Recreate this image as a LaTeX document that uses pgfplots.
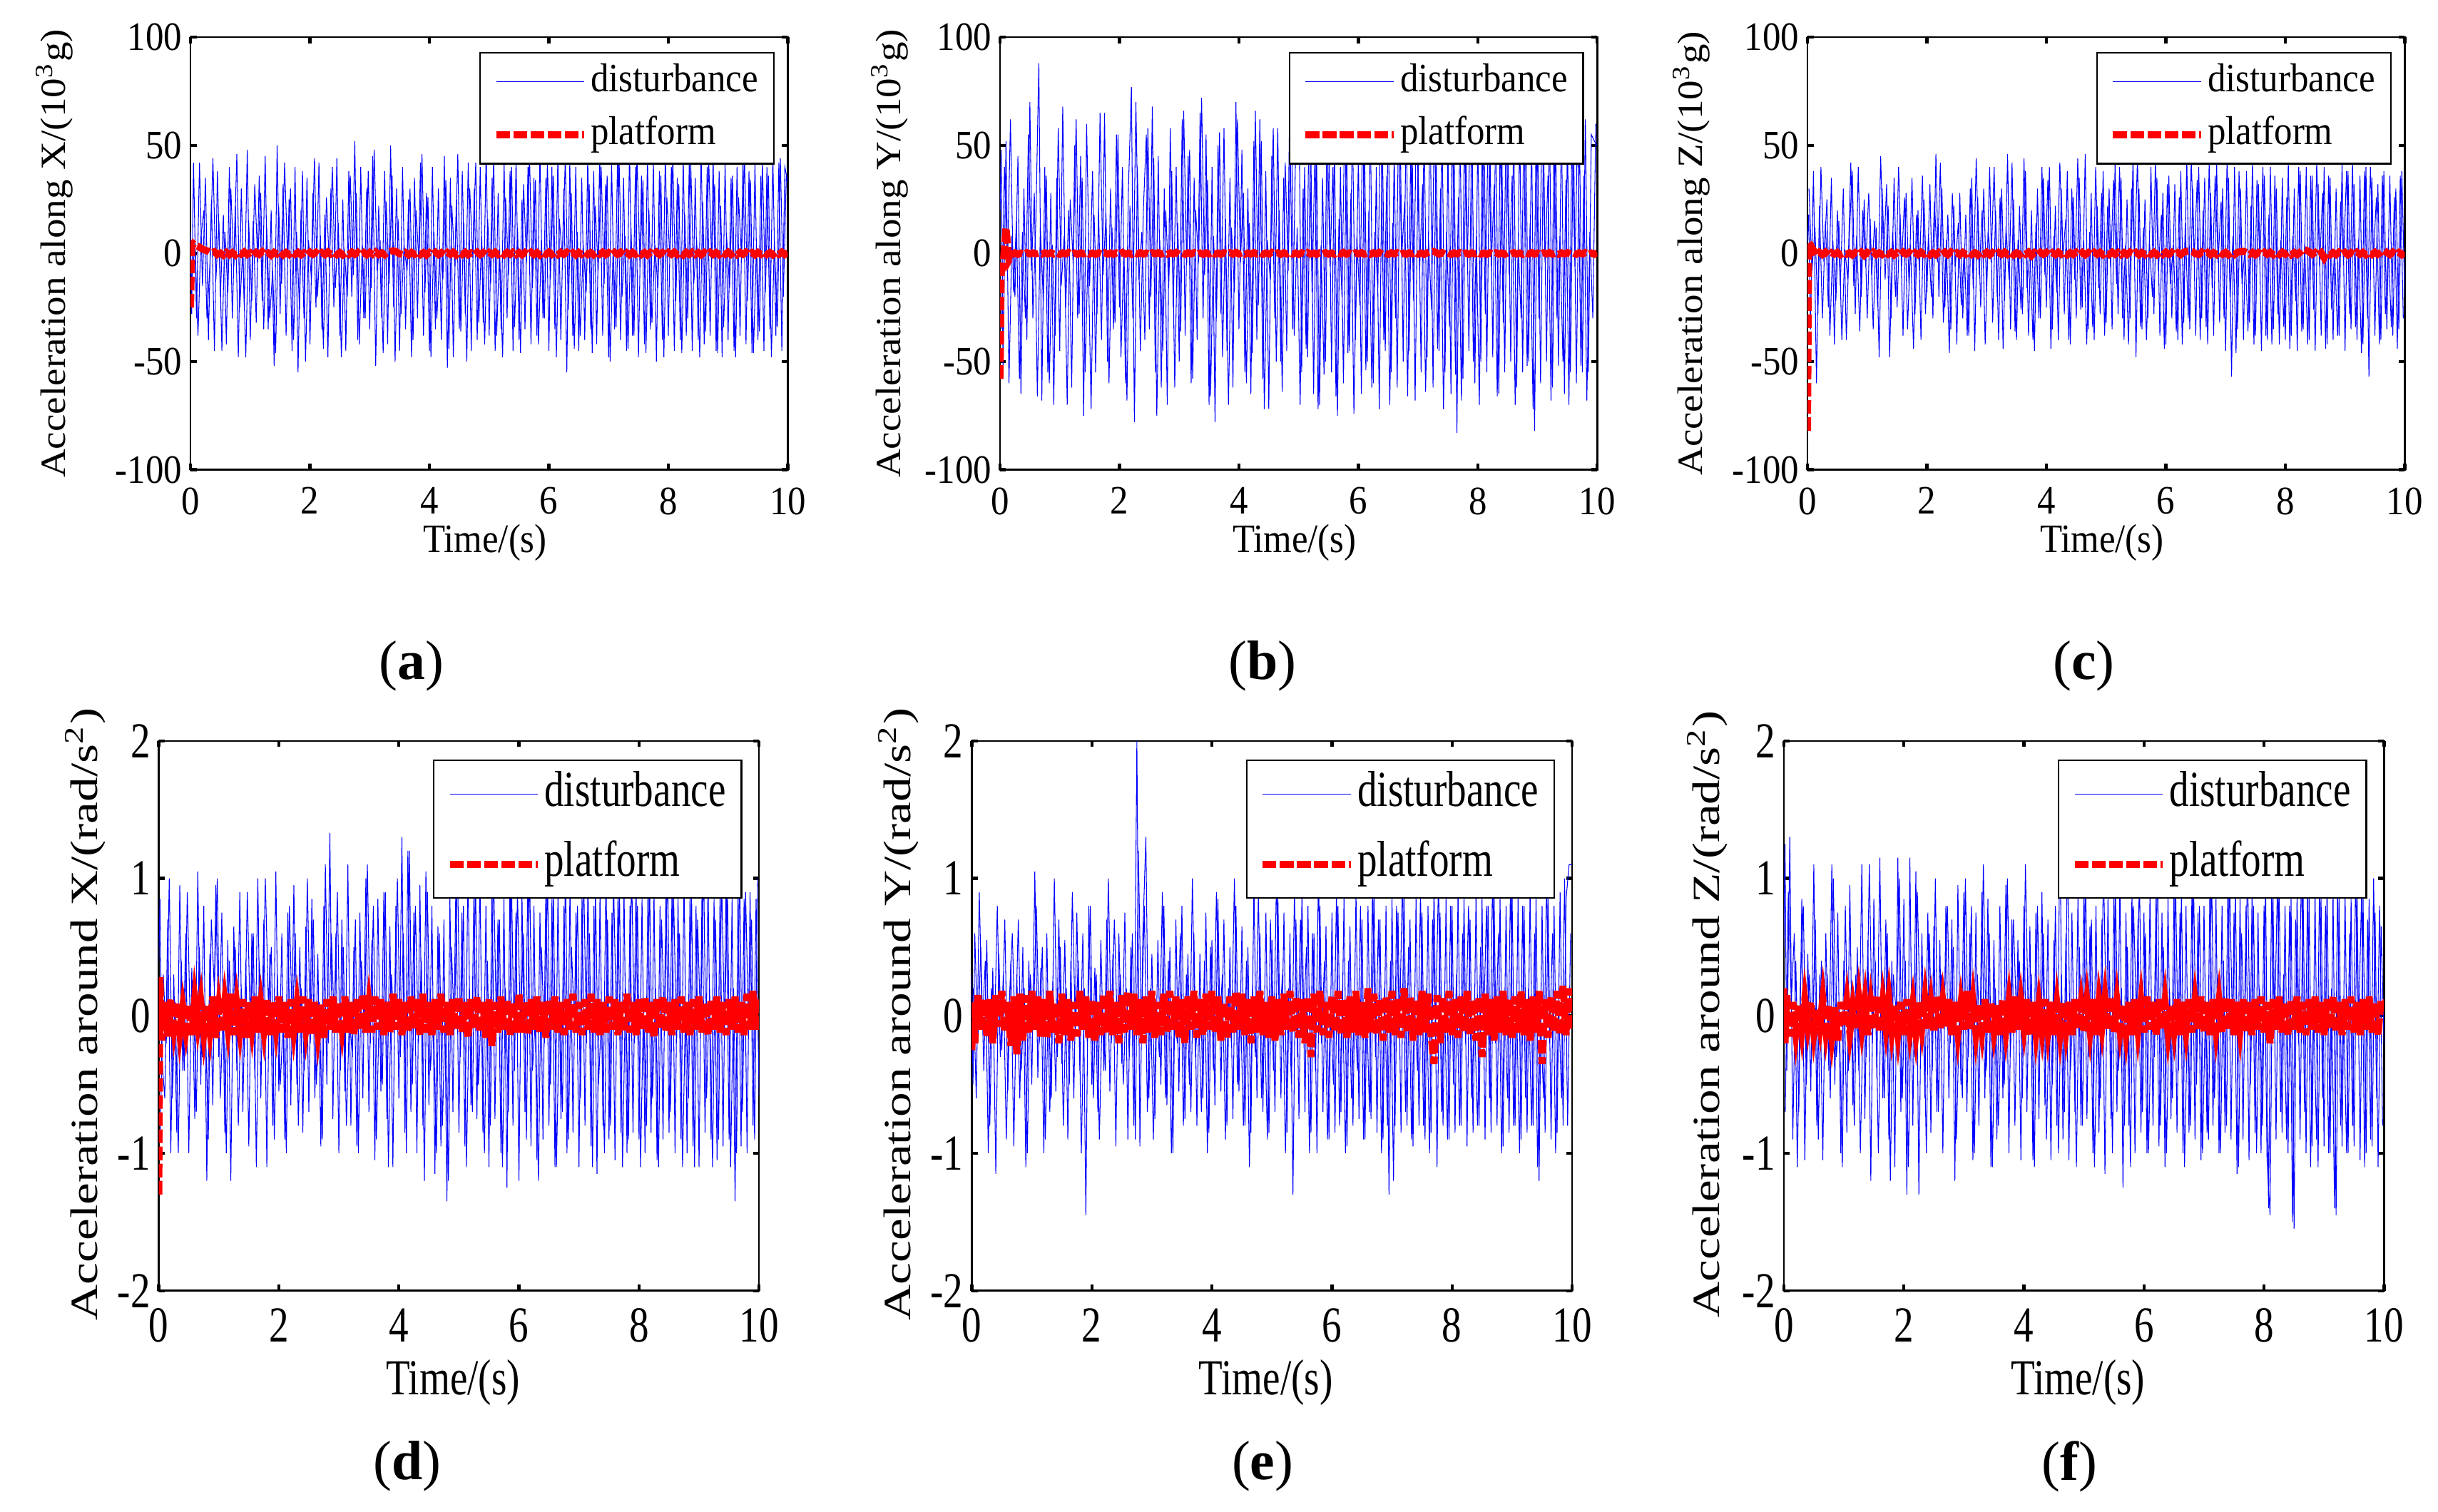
\documentclass[border=0pt]{standalone}
\usepackage{fontspec}
\setmainfont{Liberation Serif}
\newfontfamily\fA{Liberation Serif}[FakeStretch=0.9]
\newfontfamily\fB{Liberation Serif}[FakeStretch=0.78]
\usepackage{pgfplots}
\usepackage{pgfplotstable}
\pgfplotsset{compat=1.18}

\pgfplotstableread{
t a b c d e f pa pb pc pd pe pf
0 10 20 5 0.40 0.30 0.50 -25 -58 -82 -1.30 -0.25 0.20
0.02 -28 48 18 0.85 -0.50 1.25 3 -9 5 0.28 0.10 -0.20
0.05 42 -55 -35 -0.30 0.60 -0.40 4.5 -6 4 -0.18 -0.20 0.15
0.10 -30 52 38 -0.60 -0.20 1.30 3.5 12 1.5 0.10 0.15 -0.15
0.15 42 -60 -60 0.70 0.50 -0.90 3 -3 -1 -0.15 -0.10 0.10
0.20 -15 8 22 -1.00 -0.40 0.40 2 -0.5 0.5 0.12 0.12 -0.12
0.25 35 -20 -30 0.30 0.55 -0.70 1.5 0.3 -0.5 -0.08 -0.15 0.08
0.30 -40 45 15 -0.85 -0.80 0.85 1.0 -0.4 0.6 0.10 0.12 -0.10
0.35 25 -65 -25 0.95 0.35 -1.05 0.3 0.2 -0.8 -0.12 -0.20 0.12
0.40 -45 30 35 -0.40 -1.15 0.45 0.8 -0.3 0.4 0.06 0.15 -0.06
0.45 38 -40 -42 0.60 0.45 -0.55 -0.5 0.4 -0.3 -0.10 -0.08 0.10
0.50 -20 70 20 -1.00 -0.25 1.10 0.2 -0.2 0.5 0.08 0.18 -0.12
0.55 18 -30 -15 0.35 0.70 -0.80 -0.8 0.3 -0.6 -0.14 -0.12 0.05
0.60 -42 15 30 -0.75 -0.55 0.30 0.5 -0.2 0.2 0.12 0.10 -0.08
0.65 40 88 -40 1.05 0.40 -1.05 -0.6 0.2 -0.4 -0.06 -0.22 0.12
0.70 -30 -68 8 -0.50 -0.95 0.60 0.4 -0.3 0.3 0.10 0.14 -0.10
0.75 22 40 38 0.80 0.30 -0.40 -0.7 0.3 -0.7 -0.12 -0.28 0.08
0.80 -48 -55 -28 -1.20 -0.60 1.10 0.6 -0.2 0.4 0.08 0.16 -0.14
0.85 30 28 40 0.45 0.50 -0.50 -0.3 0.4 -0.5 -0.10 -0.18 0.06
0.90 -25 -70 -20 -0.65 -1.10 0.75 0.7 -0.3 0.6 0.14 0.15 -0.18
0.95 48 35 25 0.95 0.40 -1.00 -0.5 0.2 -0.8 -0.16 -0.12 0.10
1.00 -40 -45 -30 -0.30 -0.50 0.40 0.3 -0.4 0.5 0.06 0.18 -0.08
1.05 15 68 16 0.75 1.05 -0.85 -0.9 0.3 -0.3 -0.12 -0.10 0.10
1.10 -32 -25 -35 -0.85 -0.45 0.95 0.5 -0.2 0.7 0.10 0.14 -0.12
1.15 36 20 12 0.55 0.35 -0.65 -0.4 0.5 -0.6 -0.08 -0.15 0.06
1.20 -22 -62 -48 -1.20 -1.00 0.30 0.8 -0.3 0.3 0.16 0.12 -0.10
1.25 45 50 30 0.65 0.60 -0.40 -0.6 0.2 -0.5 -0.14 -0.16 0.12
1.30 -35 -30 -12 -0.40 -0.70 1.10 0.2 -0.4 0.6 0.08 0.18 -0.08
1.35 20 45 22 0.90 0.25 -0.75 -0.8 0.3 -0.4 -0.10 -0.12 0.10
1.40 -52 -75 -30 -0.70 -0.55 0.55 0.5 -0.2 0.5 0.12 0.10 -0.14
1.45 50 60 35 0.40 0.70 -1.20 -0.3 0.4 -0.7 -0.16 -0.20 0.08
1.50 -28 -15 -25 -0.95 -0.35 0.85 0.6 -0.3 0.4 0.10 0.16 -0.10
1.55 32 38 18 0.60 0.55 -0.45 -0.7 0.2 -0.5 -0.08 -0.14 0.14
1.60 -38 -55 -38 -0.45 -0.90 1.15 0.4 -0.4 0.7 0.14 0.12 -0.12
1.65 25 20 28 1.00 0.40 -0.60 -0.5 0.3 -0.3 -0.12 -0.18 0.10
1.70 -45 -40 -15 -0.60 -0.60 0.70 0.7 -0.2 0.5 0.08 0.10 -0.08
1.75 40 65 35 0.70 0.75 -0.90 -0.4 0.4 -0.6 -0.10 -0.15 0.12
1.80 -55 -50 -28 -1.10 -0.40 0.40 0.5 -0.3 0.4 0.12 0.18 -0.10
1.85 20 30 20 0.45 0.60 -1.10 -0.6 0.2 -0.5 -0.14 -0.10 0.08
1.90 -30 -35 -40 -0.80 -1.45 1.15 0.3 -0.4 0.6 0.10 0.14 -0.12
1.95 35 55 25 1.05 0.80 -0.70 -0.7 0.3 -0.4 -0.08 -0.16 0.10
2.00 -42 -25 -18 -0.55 -0.50 0.85 0.6 -0.2 0.5 0.14 0.12 -0.14
2.05 28 40 32 0.60 0.35 -1.30 -0.4 0.5 -0.7 -0.12 -0.18 0.12
2.10 -25 -60 -30 -0.90 -0.70 1.15 0.5 -0.3 0.3 0.10 0.10 -0.10
2.15 42 30 46 0.75 0.55 -0.80 -0.8 0.2 -0.6 -0.16 -0.14 0.08
2.20 -35 77 -20 -0.65 -0.40 1.05 0.4 -0.4 0.5 0.12 0.16 -0.12
2.25 18 -78 30 0.95 0.70 -1.30 -0.5 0.3 -0.4 -0.10 -0.12 0.10
2.30 -48 40 -25 -0.50 -0.55 0.60 0.7 -0.2 0.6 0.08 0.18 -0.08
2.35 30 -45 18 0.50 0.45 -0.60 -0.3 0.4 -0.5 -0.12 -0.14 0.12
2.40 -25 20 -35 -0.85 -0.95 0.75 0.5 -0.3 0.7 0.14 0.10 -0.10
2.45 44 55 22 0.65 0.60 -0.85 -0.6 0.2 -0.3 -0.08 -0.20 0.08
2.50 -38 -35 -42 -0.70 -0.35 0.65 0.4 -0.4 0.4 0.12 0.15 -0.12
2.55 25 68 28 0.85 0.75 -0.70 -0.7 0.3 -0.6 -0.14 -0.12 0.14
2.60 -45 -55 -30 -0.60 -0.90 0.55 0.3 -0.2 0.5 0.10 0.18 -0.10
2.65 38 45 18 0.45 0.50 -1.00 -0.5 0.4 -0.4 -0.12 -0.10 0.10
2.70 -20 -62 -38 -0.95 -0.80 0.80 0.6 -0.3 0.6 0.08 0.16 -0.08
2.75 52 30 35 0.80 2.00 -0.60 -0.4 0.2 -0.5 -0.16 -0.14 0.12
2.80 -40 -70 -45 -0.50 -0.95 0.70 0.5 -0.4 0.3 0.12 0.12 -0.14
2.85 40 58 26 1.33 0.60 -1.20 -0.7 0.3 -0.7 -0.10 -0.20 0.10
2.90 -30 -25 -25 -0.75 1.30 0.95 0.4 -0.2 0.5 0.14 0.14 -0.12
2.95 30 40 30 0.60 -0.60 -0.50 -0.6 0.5 -0.4 -0.12 -0.12 0.08
3.00 -35 -50 -18 -1.00 0.45 0.90 0.5 -0.3 0.6 0.10 0.18 -0.10
3.05 45 62 40 0.70 -0.75 -0.70 -0.4 0.2 -0.6 -0.08 -0.16 0.18
3.10 -52 -38 -32 -0.55 0.55 0.60 0.7 -0.4 0.4 0.14 0.10 -0.10
3.15 22 45 20 1.10 -0.50 -1.05 -0.5 0.3 -0.5 -0.12 -0.14 0.10
3.20 -30 -60 -40 -0.80 0.80 0.75 0.3 -0.2 0.5 0.10 0.16 -0.12
3.25 38 35 30 0.50 -0.65 -0.80 -0.6 0.4 -0.4 -0.14 -0.12 0.08
3.30 -42 -40 -22 -0.95 0.50 0.90 0.5 -0.3 0.6 0.12 0.18 -0.10
3.35 50 65 46 0.75 -1.00 -0.60 1.0 0.2 -0.5 -0.10 -0.10 0.12
3.40 -25 -30 -35 -0.60 0.70 0.85 1.2 -0.4 0.4 0.16 0.14 -0.12
3.45 30 55 25 1.00 -0.55 -1.10 0.8 0.3 -0.7 -0.12 -0.16 0.10
3.50 -45 -70 -40 -0.70 0.80 0.55 -0.2 -0.2 0.3 0.08 0.12 -0.10
3.55 40 40 22 0.55 -0.75 -0.90 -0.5 0.5 -0.6 -0.12 -0.20 0.08
3.60 -35 -78 -28 -1.05 0.45 0.80 0.4 -0.3 0.5 0.14 0.14 -0.14
3.65 25 50 38 0.85 -0.70 -0.60 -0.6 0.2 -0.4 -0.10 -0.10 0.12
3.70 -48 -28 -38 -0.55 0.60 0.95 0.5 -0.4 0.6 0.12 0.18 -0.10
3.75 35 58 20 0.90 -0.80 -1.00 -0.4 0.3 -1.0 -0.14 -0.16 0.10
3.80 -30 -45 -45 -0.75 0.45 0.70 0.6 -0.2 0.4 0.10 0.12 -0.12
3.85 42 35 30 0.65 -0.60 -0.80 -0.5 0.4 -0.5 -0.12 -0.14 0.14
3.90 -38 -62 -30 -1.10 0.75 0.55 0.4 -0.3 0.6 0.16 0.16 -0.10
3.95 28 70 35 0.80 -0.85 -1.05 -0.7 0.5 -0.4 -0.10 -0.10 0.10
4.00 -45 -35 -25 -0.60 0.55 0.80 0.5 -0.2 0.5 0.12 0.18 -0.08
4.05 40 48 40 1.30 -0.65 -0.70 -0.3 0.3 -0.6 -0.14 -0.12 0.12
4.10 -35 -55 -35 -0.85 0.85 0.65 0.6 -0.4 0.4 0.10 0.14 -0.14
4.15 30 30 22 1.20 -0.55 -1.05 -0.5 0.2 -0.5 -0.12 -0.18 0.10
4.20 -40 -65 -40 -0.70 0.70 0.75 0.4 -0.3 0.6 0.14 0.10 -0.12
4.25 45 52 30 0.75 -0.80 -0.75 -0.6 0.4 -0.4 -0.10 -0.16 0.08
4.30 -53 -40 -28 -1.00 0.50 0.90 0.5 -0.2 0.5 0.12 0.14 -0.10
4.35 35 62 38 0.95 -0.75 -0.65 -0.4 0.3 -0.6 -0.14 -0.12 0.12
4.40 -48 -58 -42 -0.80 0.80 0.70 0.6 -0.4 0.4 0.16 0.18 -0.10
4.45 25 38 26 1.05 -0.55 -1.05 -0.7 0.2 -0.5 -0.12 -0.10 0.10
4.50 -35 -72 -30 -0.65 0.65 0.55 0.4 -0.3 0.6 0.10 0.16 -0.14
4.55 38 45 35 0.80 -0.80 -0.80 -0.5 0.5 -0.4 -0.14 -0.14 0.08
4.60 -28 -30 -25 -1.15 0.50 1.38 0.5 -0.2 0.5 0.12 0.12 -0.12
4.65 42 58 46 0.65 -0.85 -0.90 -0.6 0.3 -0.6 -0.10 -0.20 0.10
4.70 -45 -50 -35 -0.95 0.95 0.60 0.3 -0.4 0.4 0.16 0.14 -0.10
4.75 30 35 28 0.70 -0.60 -1.05 -0.4 0.3 -0.5 -0.12 -0.12 0.10
4.80 -40 -45 -40 -1.35 0.60 0.75 0.6 -0.2 0.6 0.10 0.18 -0.14
4.85 40 70 22 0.85 -0.70 -0.70 -0.5 0.4 -0.4 -0.14 -0.14 0.12
4.90 -32 -35 -28 -0.70 0.75 0.85 0.4 -0.3 0.5 0.12 0.10 -0.10
4.95 48 50 38 1.00 -0.85 -0.80 -0.7 0.2 -0.6 -0.10 -0.16 0.08
5.00 -38 83 -32 -0.85 0.55 0.95 0.5 -0.4 0.4 0.14 0.14 -0.12
5.05 35 -55 30 0.75 -0.70 -0.75 -0.4 0.3 -0.5 -0.12 -0.18 0.10
5.10 -45 40 -35 -0.95 0.85 0.65 0.6 -0.2 0.6 0.10 0.12 -0.10
5.15 28 -48 42 1.10 -0.60 -1.00 -0.5 0.5 -0.4 -0.16 -0.14 0.12
5.20 -35 60 -28 -0.65 0.75 0.80 0.4 -0.3 0.5 0.12 0.16 -0.14
5.25 42 -65 35 0.90 -0.85 -0.85 -0.6 0.2 -0.6 -0.10 -0.10 0.10
5.30 -30 45 -40 -0.75 0.60 0.70 0.5 -0.4 0.4 0.14 0.18 -0.08
5.35 38 -70 25 1.05 -1.30 -1.15 -0.4 0.3 -0.5 -0.12 -0.12 0.12
5.40 -45 35 -30 -0.85 0.70 0.85 0.6 -0.2 0.6 0.10 0.14 -0.10
5.45 44 -50 45 0.80 -0.75 -0.75 -0.5 0.4 -0.4 -0.16 -0.16 0.14
5.50 -40 72 -48 -1.10 0.90 0.90 0.4 -0.3 0.5 0.12 0.12 -0.12
5.55 25 -55 30 0.95 -0.70 -0.70 -0.6 0.2 -0.6 -0.22 -0.20 0.10
5.60 -35 50 -35 -0.75 0.80 1.00 0.5 -0.4 0.4 0.10 0.14 -0.10
5.65 40 -75 25 0.70 -0.85 -1.25 -0.4 0.3 -0.5 -0.12 -0.30 0.08
5.70 -42 40 -30 -1.00 0.60 0.75 0.6 -0.2 0.6 0.14 0.16 -0.12
5.75 35 -60 40 0.85 -1.00 -0.80 -0.5 0.5 -0.4 -0.10 -0.12 0.10
5.80 -38 55 -28 -1.25 0.80 0.90 0.4 -0.3 0.5 0.12 0.18 -0.14
5.85 48 -45 35 1.00 -0.70 -1.00 -0.7 0.2 -0.6 -0.14 -0.14 0.12
5.90 -30 62 -38 -0.80 0.65 0.70 0.5 -0.4 0.4 0.10 0.10 -0.10
5.95 35 -40 28 0.75 -0.90 -0.85 -0.4 0.3 -0.5 -0.12 -0.16 0.10
6.00 -45 45 -42 -1.20 0.75 0.75 0.6 -0.2 0.6 0.16 0.14 -0.12
6.05 40 -65 36 0.90 -0.85 -1.00 -0.5 0.4 -0.4 -0.12 -0.12 0.14
6.10 -35 55 -30 -0.70 0.80 0.90 0.4 -0.3 0.5 0.10 0.18 -0.10
6.15 45 -50 32 1.10 -0.70 -0.80 -0.6 0.2 -0.6 -0.14 -0.14 0.10
6.20 -40 62 -40 -0.95 0.85 0.85 0.5 -0.4 0.4 0.12 0.12 -0.14
6.25 30 -60 38 0.80 -0.95 -0.95 -0.4 0.3 -0.5 -0.10 -0.16 0.12
6.30 -55 40 -32 -1.05 0.65 0.75 0.6 -0.2 0.6 0.14 0.14 -0.10
6.35 42 -72 44 0.75 -0.80 -1.10 -0.5 0.5 1.0 -0.12 -0.12 0.10
6.40 -38 55 -35 -0.90 0.90 0.85 0.4 -0.3 1.2 0.10 0.18 -0.12
6.45 40 -45 30 1.00 -0.75 -0.75 -0.7 0.2 0.8 -0.16 -0.14 0.08
6.50 -45 65 -38 -0.80 0.70 0.90 0.5 -0.4 -0.2 0.12 0.10 -0.10
6.55 35 -55 40 0.85 -0.90 -0.85 -0.4 0.3 -0.5 -0.10 -0.16 0.12
6.60 -40 48 -30 -1.10 0.80 0.75 0.6 -0.2 0.6 0.14 0.20 -0.14
6.65 44 -62 35 0.90 -0.75 -1.00 -0.5 0.4 -0.4 -0.12 -0.12 0.10
6.70 -35 58 -42 -0.75 0.95 0.80 0.4 -0.3 0.5 0.10 0.16 -0.10
6.75 38 -50 28 0.80 -0.85 -0.85 -0.6 0.2 -0.6 -0.14 -0.14 0.12
6.80 -42 65 -38 -1.00 0.70 0.95 0.5 -0.4 0.4 0.12 0.12 -0.12
6.85 46 -45 42 0.95 -0.90 -0.90 -0.4 0.3 -0.5 -0.10 -0.18 0.10
6.90 -38 52 -32 -0.85 0.80 0.75 0.6 -0.2 0.6 0.16 0.14 -0.10
6.95 32 -68 30 0.75 -1.30 -1.05 -0.5 0.5 -0.4 -0.12 -0.12 0.14
7.00 -48 45 -45 -1.10 0.85 0.80 0.4 -0.3 0.5 0.10 0.18 -0.12
7.05 42 -55 35 0.85 -0.80 -0.85 -0.7 0.2 -0.6 -0.14 -0.14 0.10
7.10 -35 60 -57 -0.80 0.75 1.00 0.5 -0.4 0.4 0.12 0.12 -0.14
7.15 45 -48 40 1.00 -0.85 -0.80 -0.4 0.3 -0.5 -0.10 -0.16 0.12
7.20 -40 70 -35 -0.95 0.90 0.85 0.6 0.8 0.6 0.16 0.20 -0.10
7.25 35 -62 30 0.80 -0.80 -1.00 -0.5 1.0 0.8 -0.12 -0.12 0.10
7.30 -45 50 -40 -1.15 0.70 0.80 0.4 0.5 1.0 0.12 0.14 -0.12
7.35 48 -45 38 0.90 -0.95 -0.85 -0.6 -0.3 0.5 -0.14 -0.18 0.14
7.40 -38 62 -32 -0.80 0.85 1.05 0.5 0.4 -0.4 0.10 0.12 -0.10
7.45 40 -55 42 1.05 -0.80 -0.90 -0.4 -0.3 0.5 -0.12 -0.14 0.12
7.50 -48 48 -38 -0.90 0.75 0.75 0.6 0.2 -0.6 0.14 0.18 -0.14
7.55 36 -65 32 0.75 -0.90 -1.15 -0.5 -0.4 0.4 -0.10 -0.12 0.10
7.60 -42 58 -45 -1.05 0.80 0.85 0.4 0.3 -0.5 0.12 0.16 -0.10
7.65 45 -83 36 0.90 -0.85 -0.90 -0.7 -0.2 0.6 -0.14 -0.14 0.12
7.70 -35 65 -40 -0.85 0.95 0.80 0.5 0.4 -0.4 0.10 -0.35 -0.12
7.75 42 -58 40 0.95 -1.10 -1.05 -0.4 -0.3 0.5 -0.12 0.15 0.10
7.80 -50 50 -35 -1.00 0.75 0.90 0.6 0.2 -0.6 0.16 -0.20 -0.14
7.85 38 -45 30 0.80 -0.80 -0.85 -0.5 -0.4 0.4 -0.12 0.14 0.12
7.90 -40 62 -42 -0.85 0.85 0.75 0.4 0.3 -0.5 0.10 -0.12 -0.10
7.95 48 -60 35 1.00 -0.90 -1.00 -0.6 -0.2 0.6 -0.14 0.18 0.14
8.00 -38 55 -40 -0.90 0.80 0.80 0.5 0.4 -0.4 0.12 -0.14 -0.12
8.05 40 -50 42 0.85 -0.85 -1.05 -0.4 -0.3 0.5 -0.10 0.12 0.10
8.10 -45 68 -38 -1.00 0.90 -1.45 0.6 0.2 -0.6 0.14 -0.16 -0.20
8.15 35 -55 30 0.95 -0.80 0.85 -0.5 -0.4 0.4 -0.12 0.14 0.12
8.20 -40 60 -45 -0.85 0.85 -0.90 0.4 0.3 -0.5 0.10 -0.12 -0.10
8.25 44 -48 38 0.90 -0.95 1.00 -0.7 -0.2 0.6 -0.16 0.18 0.14
8.30 -38 65 -35 -1.05 0.70 -0.85 0.5 0.4 2.0 0.12 -0.14 -0.12
8.35 42 -65 40 0.80 -0.85 0.80 -0.4 -0.3 1.5 -0.10 0.12 0.10
8.40 -45 50 -40 -0.90 0.90 -1.00 0.6 0.2 0.8 0.14 -0.18 -0.14
8.45 35 -55 36 1.00 -0.80 0.85 -0.5 -0.4 -0.4 -0.12 0.14 0.12
8.50 -40 62 -45 -0.85 0.85 -1.55 0.4 0.3 0.5 0.10 -0.30 -0.10
8.55 48 -50 32 0.95 -0.90 0.90 -0.6 -0.2 -0.6 -0.14 0.16 0.14
8.60 -42 58 -38 -1.00 0.80 -0.90 0.5 0.4 0.4 0.12 -0.14 -0.12
8.65 40 -62 40 0.85 -0.85 0.95 -0.4 -0.3 -2.0 -0.10 0.12 0.10
8.70 -38 60 -42 -0.90 0.90 -1.00 0.6 0.2 0.5 0.14 -0.18 -0.14
8.75 45 -55 35 1.05 -0.80 0.85 -0.5 -0.4 -0.6 -0.12 0.14 0.12
8.80 -45 65 -40 -1.00 0.85 -0.95 0.4 0.3 0.4 0.10 -0.12 -0.10
8.85 38 -50 30 0.90 -0.95 0.90 -0.6 -0.2 -0.5 -0.14 0.18 0.14
8.90 -48 55 -38 -0.95 0.80 -1.10 0.5 0.4 0.6 0.12 -0.14 -0.12
8.95 42 -82 42 0.80 -0.85 0.85 -0.4 -0.3 -0.4 -0.10 0.12 0.10
9.00 -40 60 -45 -1.10 0.90 -0.95 0.6 0.2 0.5 0.14 -0.16 -0.14
9.05 35 -60 38 0.95 -0.80 0.95 -0.5 -0.4 -0.6 -0.12 0.14 0.12
9.10 -45 55 -35 -0.85 0.85 -1.00 0.4 0.3 0.4 0.10 -0.12 -0.10
9.15 40 -50 32 1.00 -0.90 0.90 -0.6 -0.2 -0.5 -0.14 0.18 0.14
9.20 -38 62 -40 -0.90 0.80 -1.45 0.5 0.4 0.6 0.12 -0.14 -0.12
9.25 44 -62 36 0.85 -0.85 0.85 -0.4 -0.3 -0.4 -0.10 0.12 0.10
9.30 -42 58 -42 -1.05 0.90 -0.95 0.6 0.2 0.5 0.14 -0.18 -0.14
9.35 38 -52 40 0.90 -0.80 0.90 -0.5 -0.4 -0.6 -0.12 0.14 0.12
9.40 -46 62 -57 -0.95 0.85 -1.00 0.4 0.3 0.4 0.10 -0.12 -0.10
9.45 42 -65 35 1.00 -1.20 0.85 -0.6 -0.2 -0.5 -0.14 0.18 0.14
9.50 -40 55 -38 -0.90 0.80 -0.95 0.5 0.4 0.6 0.12 -0.35 -0.12
9.55 36 -55 32 0.85 -0.85 0.90 -0.4 -0.3 -0.4 -0.10 0.12 0.10
9.60 -45 60 -40 -1.35 0.85 -1.05 0.6 0.2 0.5 0.14 -0.16 -0.14
9.65 40 -60 38 0.90 -0.90 0.85 -0.5 -0.4 1.5 -0.12 0.14 0.12
9.70 -35 58 -35 -0.95 0.80 -1.00 0.4 0.3 0.4 0.10 -0.12 -0.10
9.75 45 -55 36 0.85 -0.85 0.85 -0.6 -0.2 -0.5 -0.14 0.18 0.14
9.80 -38 62 -38 -1.00 0.90 -0.95 0.5 0.4 0.6 0.16 -0.14 -0.12
9.85 42 -55 30 0.90 -0.80 0.75 -0.4 -0.3 -0.4 -0.10 0.22 0.10
9.90 -45 55 -35 -0.80 0.85 -1.10 0.6 0.2 0.5 0.18 -0.14 -0.14
9.95 40 52 38 0.85 1.10 0.65 -0.5 -0.4 -0.6 -0.10 0.20 0.12
10.00 33 50 -20 -0.58 1.10 -0.22 0.4 0.3 0.4 0.14 -0.10 0.10
}\data

\pgfplotstableread{
t a b c d e f
0.025 -12 -35 30 -0.9 0.2 -0.7
0.075 5 40 -8 0.3 -0.6 0.9
0.125 -38 -6 12 -0.2 0.9 0.1
0.175 8 62 -28 1.0 -0.1 0.6
0.225 20 -18 40 -0.6 0.4 -1.1
0.275 -30 15 -4 0.1 -1.0 0.2
0.325 -5 -58 25 -1.0 0.2 0.8
0.375 44 10 -38 0.4 -0.2 -0.5
0.425 -12 -30 6 -0.4 0.8 0.3
0.475 15 55 -22 0.9 -0.3 -0.2
0.525 -45 -8 15 -0.1 0.3 0.7
0.575 10 28 -40 0.2 -0.9 -0.9
0.625 -18 -66 2 -0.7 0.1 0.4
0.675 30 12 -12 0.5 0.6 -0.1
0.725 -6 -22 42 -0.3 -0.2 0.3
0.775 46 36 -15 0.0 0.7 -0.6
0.825 -25 -60 8 -0.9 -0.4 1.0
0.875 2 4 -36 0.7 0.2 -0.3
0.925 -48 -38 20 0.2 -1.0 0.0
0.975 14 58 -6 1.0 0.3 -1.1
1.025 -22 -15 28 -0.6 -0.1 0.8
1.075 32 8 -10 0.1 0.8 -0.4
1.125 -4 -70 15 -1.0 -0.2 0.2
1.175 28 25 -25 0.4 0.5 -0.8
1.225 -35 -5 45 -0.2 -0.9 0.5
1.275 12 62 -2 0.5 0.1 -1.0
1.325 -30 -28 32 -0.8 -0.6 0.1
1.375 -8 35 -48 0.2 1.0 -0.3
1.425 -46 -55 10 -0.3 -0.3 1.1
1.475 22 2 -20 0.9 0.5 -0.2
1.525 -14 -72 40 -0.1 -0.8 0.4
1.575 42 18 -6 0.6 0.2 -1.0
1.625 -2 -28 26 -1.1 -0.5 0.3
1.675 30 65 -35 0.4 0.9 -0.6
1.725 -40 -10 4 -0.2 -0.1 0.6
1.775 10 18 -44 1.0 0.4 -1.2
1.825 -26 -60 18 0.1 -1.0 0.3
1.875 38 12 -8 0.5 0.2 0.0
1.925 -50 -32 36 -0.9 -0.2 1.0
1.975 6 55 -28 0.3 0.8 -0.6
2.025 -12 -48 8 -0.5 -0.6 0.4
2.075 44 2 -20 0.0 0.3 -1.1
2.125 -20 -68 24 -1.0 -0.9 0.2
2.175 8 22 -4 0.8 0.1 -0.3
2.225 -44 -30 42 -0.1 -0.4 0.9
2.275 26 70 -32 0.6 1.0 -0.1
2.325 -6 -12 6 -0.8 -0.2 0.2
2.375 40 10 -46 0.2 0.7 -1.0
2.425 -16 -40 28 -0.4 -0.1 0.6
2.475 14 58 -6 1.0 0.3 -0.4
2.525 -48 -20 14 -0.2 -0.5 1.0
2.575 2 44 -24 0.7 0.2 -0.7
2.625 -20 -75 2 -0.5 -0.3 0.3
2.675 36 6 -38 0.1 0.6 0.1
2.725 -10 -45 30 -0.9 -0.9 0.8
2.775 28 20 -16 1.1 1.2 -0.2
2.825 -42 -15 44 -0.2 -0.1 0.5
2.875 4 38 -10 0.6 0.8 -0.9
2.925 -30 -62 20 -0.1 -0.7 0.0
2.975 38 14 -42 0.9 0.2 -0.6
3.025 -16 -36 10 -0.4 -0.9 1.0
3.075 48 66 -4 0.5 0.1 -0.3
3.125 -8 -5 40 -0.8 -0.3 0.8
3.175 6 48 -20 0.0 0.9 -1.0
3.225 -46 -58 26 -0.3 -0.6 0.3
3.275 24 20 -44 0.7 0.4 -0.2
3.325 -14 -4 12 -1.0 -1.0 1.1
3.375 36 72 -12 0.4 0.0 -0.4
3.425 -50 -10 42 -0.1 -0.2 0.6
3.475 16 34 -36 1.1 0.6 -1.1
3.525 -28 -66 6 -0.2 -0.8 0.2
3.575 4 8 -26 0.8 0.3 -0.8
3.625 -8 -30 44 -0.9 -0.5 0.1
3.675 30 56 -16 0.1 1.0 -0.5
3.725 -40 -48 2 -0.5 -0.3 1.0
3.775 20 16 -40 0.9 0.1 -0.3
3.825 -4 -70 14 -1.1 -0.7 0.7
3.875 46 12 -30 0.3 0.4 0.0
3.925 -18 -18 40 -0.1 -1.0 0.4
3.975 26 62 -10 1.0 0.5 -0.6
4.025 -48 -4 34 -0.3 -0.4 1.1
4.075 10 28 -44 0.6 0.9 -0.1
4.125 -30 -60 8 -1.0 -0.1 0.3
4.175 2 14 -18 1.2 0.3 -1.1
4.225 -12 -46 42 -0.5 -0.9 0.8
4.275 34 66 -2 0.8 0.2 -0.2
4.325 -44 -24 16 -0.2 -0.2 0.6
4.375 22 52 -40 0.4 1.0 -0.9
4.425 -6 -72 30 -1.2 -0.5 0.1
4.475 46 6 -12 0.9 0.1 -0.5
4.525 -36 -12 44 -0.4 -0.8 0.8
4.575 14 58 -26 0.0 0.4 -1.0
4.625 -50 -50 6 -1.0 -1.1 0.3
4.675 30 20 -42 0.6 0.2 -0.7
4.725 -2 -64 10 -0.8 -0.3 1.2
4.775 42 42 -34 0.1 0.9 -0.4
4.825 -32 -8 40 -1.2 -0.6 0.1
4.875 8 70 -16 0.5 0.0 -1.1
4.925 -42 -38 28 -0.1 -0.9 0.5
4.975 16 12 -38 1.1 0.7 -0.8
5.025 -14 -70 22 -0.3 -0.4 1.0
5.075 44 30 -6 0.8 1.0 -0.3
5.125 -38 -44 34 -1.1 -0.1 0.7
5.175 2 66 -14 0.2 0.3 -1.1
5.225 -48 -18 40 -0.7 -1.0 0.0
5.275 26 50 -30 1.0 0.2 -0.6
5.325 -10 -72 4 -0.5 -0.5 1.1
5.375 40 4 -42 0.1 0.9 -0.1
5.425 -34 -56 30 -1.0 -0.3 0.4
5.475 12 62 -2 0.4 0.7 -1.0
5.525 -46 -6 44 -0.8 -0.1 0.9
5.575 32 40 -34 1.1 0.5 -0.4
5.625 -4 -66 12 -0.1 -1.0 0.2
5.675 46 16 -40 0.7 0.6 -0.8
5.725 -16 -20 6 -1.1 -0.4 0.5
5.775 34 70 -20 0.2 1.0 -1.1
5.825 -42 -46 42 -0.7 -0.2 0.8
5.875 6 28 -8 1.0 0.4 0.0
5.925 -30 -74 18 -0.4 -0.9 1.0
5.975 42 8 -44 0.9 0.1 -0.7
6.025 -12 -24 32 -0.1 -0.5 0.6
6.075 36 64 -14 0.6 0.9 -1.0
6.125 -48 -54 4 -0.9 -0.8 0.1
6.175 16 20 -36 1.1 0.2 -0.3
6.225 -2 -62 26 -0.4 -1.0 1.1
6.275 44 10 -42 0.0 0.4 -0.8
6.325 -26 -16 14 -1.2 -0.6 0.5
6.375 28 68 -30 0.5 0.1 -1.0
6.425 -44 -40 44 -0.2 -0.4 0.2
6.475 10 36 -2 1.0 0.8 -0.6
6.525 -38 -70 34 -0.5 -0.9 1.0
6.575 4 14 -40 0.9 0.1 -0.4
6.625 -18 -30 20 -1.1 -0.7 0.9
6.675 32 62 -34 0.1 0.9 -1.1
6.725 -46 -2 42 -0.7 -0.3 0.0
6.775 22 24 -16 1.1 0.7 -0.8
6.825 -8 -66 36 -0.9 -1.0 1.0
6.875 40 46 -4 0.5 0.2 -0.5
6.925 -14 -22 24 -0.1 -0.8 0.8
6.975 36 70 -30 0.8 0.4 -1.0
7.025 -50 -8 44 -0.6 -1.2 0.1
7.075 2 32 -20 1.1 0.8 -0.9
7.125 -34 -64 8 -0.2 -0.1 1.1
7.175 44 6 -46 0.6 1.0 -0.6
7.225 -20 -26 38 -1.1 -0.7 0.3
7.275 8 66 -14 0.9 0.5 -1.0
7.325 -44 -44 2 -0.5 -0.9 0.4
7.375 12 30 -36 0.0 0.1 -0.8
7.425 -38 -72 22 -1.0 -0.4 1.0
7.475 46 10 -42 0.7 0.9 -0.1
7.525 -6 -34 34 -0.8 -0.8 0.9
7.575 34 60 -4 1.0 0.2 -1.1
7.625 -46 -56 40 -0.1 -1.0 0.6
7.675 20 26 -38 0.9 0.7 -0.2
7.725 -32 -68 18 -1.1 -0.1 1.1
7.775 4 54 -42 0.2 1.0 -0.5
7.825 -16 -4 36 -0.9 -0.7 0.8
7.875 36 66 -28 1.1 0.1 -1.0
7.925 -48 -50 6 -0.2 -0.9 0.2
7.975 26 8 -34 0.8 0.8 -0.8
8.025 -2 -70 26 -1.1 -0.5 1.0
8.075 44 52 -44 0.1 0.3 -1.4
8.125 -22 -28 8 -0.8 -0.8 0.9
8.175 32 64 -22 1.0 0.6 -0.1
8.225 -46 -6 40 -0.6 -0.2 1.0
8.275 18 32 -36 0.2 0.8 -0.7
8.325 -30 -66 4 -1.1 -0.6 0.3
8.375 42 56 -42 0.7 0.0 -0.9
8.425 -14 -32 36 -0.1 -0.8 0.8
8.475 6 62 -26 1.1 0.5 -1.5
8.525 -48 -10 42 -0.7 -0.1 0.7
8.575 24 36 -6 0.9 0.8 -0.2
8.625 -36 -70 28 -0.2 -0.6 1.1
8.675 44 4 -44 0.6 1.0 -0.7
8.725 -4 -30 36 -1.1 -0.2 0.9
8.775 32 66 -26 0.1 0.6 -1.1
8.825 -46 -52 2 -0.6 -1.0 0.1
8.875 22 14 -38 0.9 0.1 -0.9
8.925 -34 -72 24 -1.1 -0.6 1.0
8.975 8 56 -4 0.7 1.0 -0.6
9.025 -16 -30 38 -0.1 -0.8 0.8
9.075 36 64 -28 1.1 0.1 -1.0
9.125 -48 -4 42 -0.6 -1.0 0.2
9.175 26 36 -34 0.2 0.8 -1.4
9.225 -2 -68 6 -1.1 -0.6 1.0
9.275 44 54 -46 0.7 0.2 -0.8
9.325 -22 -30 38 -0.9 -0.8 0.1
9.375 34 8 -30 1.0 0.6 -1.0
9.425 -46 -50 40 -0.1 -1.1 0.6
9.475 4 34 -2 0.9 0.0 -0.8
9.525 -36 -70 26 -1.1 -0.6 1.0
9.575 42 56 -42 0.2 1.0 -0.1
9.625 -18 -6 36 -1.0 -0.2 0.9
9.675 36 64 -28 1.1 0.6 -1.1
9.725 -48 -52 4 -0.7 -1.0 0.7
9.775 6 36 -34 0.9 0.1 -0.9
9.825 -34 -68 26 -0.1 -0.6 1.0
9.875 44 10 -44 0.7 1.0 -0.6
9.925 -20 -30 36 -0.9 -0.8 0.8
9.975 36 60 -30 1.0 0.6 -0.8
}\dataB

\pgfplotsset{
  base/.style={
    scale only axis, anchor=south west,
    xmin=0, xmax=10,
    xtick={0,2,4,6,8,10}, xticklabels={0,2,4,6,8,10},
    tick align=inside, major tick length=1.2pt,
    tick style={line width=0.6pt, black},
    axis line style={line width=0.35pt},
    legend cell align=left,
    legend image code/.code={\draw[#1] (0pt,0pt) -- (17.5pt,0pt);},
  },
  top/.style={
    base, width=118.5pt, height=85.8pt,
    ymin=-100, ymax=100,
    ytick={-100,-50,0,50,100}, yticklabels={-100,-50,0,50,100},
    ticklabel style={font=\fA\fontsize{8}{9}\selectfont},
    yticklabel style={inner xsep=1.5pt},
    xlabel={Time/(s)},
    xlabel style={font=\fA\fontsize{8}{9}\selectfont, at={(axis description cs:0.493,-0.168)}, anchor=center},
    legend style={font=\fA\fontsize{8}{9}\selectfont, at={(axis description cs:0.978,0.966)}, anchor=north east,
      draw=black, line width=0.35pt, fill=white, inner xsep=2.5pt, inner ysep=1.5pt, row sep=2pt,
      nodes={inner sep=0.6pt, text height=5.6pt, text depth=1.7pt},
      /tikz/every even column/.append style={column sep=1pt}},
  },
  bot/.style={
    base, width=119.1pt, height=109.1pt,
    ymin=-2, ymax=2,
    ytick={-2,-1,0,1,2}, yticklabels={-2,-1,0,1,2},
    ticklabel style={font=\fB\fontsize{10}{11}\selectfont},
    yticklabel style={inner xsep=1.5pt},
    xlabel={Time/(s)},
    xlabel style={font=\fB\fontsize{10}{11}\selectfont, at={(axis description cs:0.49,-0.167)}, anchor=center},
    legend style={font=\fB\fontsize{10}{11}\selectfont, at={(axis description cs:0.972,0.966)}, anchor=north east,
      draw=black, line width=0.35pt, fill=white, inner xsep=2.5pt, inner ysep=1.5pt, row sep=3.5pt,
      nodes={inner sep=0.6pt, text height=7pt, text depth=2.2pt},
      /tikz/every even column/.append style={column sep=1pt}},
  },
  dist/.style={blue, line width=0.15pt},
  plat/.style={red, line width=1.4pt, dash pattern=on 2.7pt off 0.7pt},
}

\begin{document}
\begin{tikzpicture}
\useasboundingbox (0,0) rectangle (483.7pt,299.9pt);

% (a)
\begin{axis}[top, at={(37.8pt,206.7pt)},
  ylabel={Acceleration along X/(10\textsuperscript{3}g)},
  ylabel style={font=\fontsize{7.8}{9}\selectfont, at={(axis description cs:-0.228,0.5)}, anchor=center, yscale=0.9}]
\addplot[dist] table[x=t,y=a] {\data};
\addplot[dist, forget plot] table[x=t,y=a] {\dataB};
\addplot[plat] table[x=t,y=pa] {\data};
\legend{disturbance,platform}
\end{axis}

% (b)
\begin{axis}[top, at={(198.4pt,206.7pt)},
  ylabel={Acceleration along Y/(10\textsuperscript{3}g)},
  ylabel style={font=\fontsize{7.8}{9}\selectfont, at={(axis description cs:-0.185,0.5)}, anchor=center, yscale=0.9}]
\addplot[dist] table[x=t,y=b] {\data};
\addplot[dist, forget plot] table[x=t,y=b] {\dataB};
\addplot[plat] table[x=t,y=pb] {\data};
\legend{disturbance,platform}
\end{axis}

% (c)
\begin{axis}[top, at={(358.6pt,206.7pt)},
  ylabel={Acceleration along Z/(10\textsuperscript{3}g)},
  ylabel style={font=\fontsize{7.8}{9}\selectfont, at={(axis description cs:-0.194,0.5)}, anchor=center, yscale=0.9}]
\addplot[dist] table[x=t,y=c] {\data};
\addplot[dist, forget plot] table[x=t,y=c] {\dataB};
\addplot[plat] table[x=t,y=pc] {\data};
\legend{disturbance,platform}
\end{axis}

% (d)
\begin{axis}[bot, at={(31.5pt,43.8pt)},
  ylabel={Acceleration around X/(rad/s\textsuperscript{2})},
  ylabel style={font=\fontsize{9.8}{11}\selectfont, at={(axis description cs:-0.122,0.503)}, anchor=center, yscale=0.78}]
\addplot[dist] table[x=t,y=d] {\data};
\addplot[dist, forget plot] table[x=t,y=d] {\dataB};
\addplot[plat] table[x=t,y=pd] {\data};
\legend{disturbance,platform}
\end{axis}

% (e)
\begin{axis}[bot, at={(192.8pt,43.8pt)},
  ylabel={Acceleration around Y/(rad/s\textsuperscript{2})},
  ylabel style={font=\fontsize{9.8}{11}\selectfont, at={(axis description cs:-0.122,0.503)}, anchor=center, yscale=0.78}]
\addplot[dist] table[x=t,y=e] {\data};
\addplot[dist, forget plot] table[x=t,y=e] {\dataB};
\addplot[plat] table[x=t,y=pe] {\data};
\legend{disturbance,platform}
\end{axis}

% (f)
\begin{axis}[bot, at={(353.9pt,43.8pt)},
  ylabel={Acceleration around Z/(rad/s\textsuperscript{2})},
  ylabel style={font=\fontsize{9.8}{11}\selectfont, at={(axis description cs:-0.127,0.503)}, anchor=center, yscale=0.78}]
\addplot[dist] table[x=t,y=f] {\data};
\addplot[dist, forget plot] table[x=t,y=f] {\dataB};
\addplot[plat] table[x=t,y=pf] {\data};
\legend{disturbance,platform}
\end{axis}

\node[font=\fontsize{11}{13}\selectfont] at (81.6pt,167.8pt) {(\textbf{a})};
\node[font=\fontsize{11}{13}\selectfont] at (250.5pt,167.8pt) {(\textbf{b})};
\node[font=\fontsize{11}{13}\selectfont] at (413.4pt,167.8pt) {(\textbf{c})};
\node[font=\fontsize{11}{13}\selectfont] at (80.8pt,8.95pt) {(\textbf{d})};
\node[font=\fontsize{11}{13}\selectfont] at (250.5pt,8.95pt) {(\textbf{e})};
\node[font=\fontsize{11}{13}\selectfont] at (410.6pt,8.95pt) {(\textbf{f})};
\end{tikzpicture}
\end{document}
